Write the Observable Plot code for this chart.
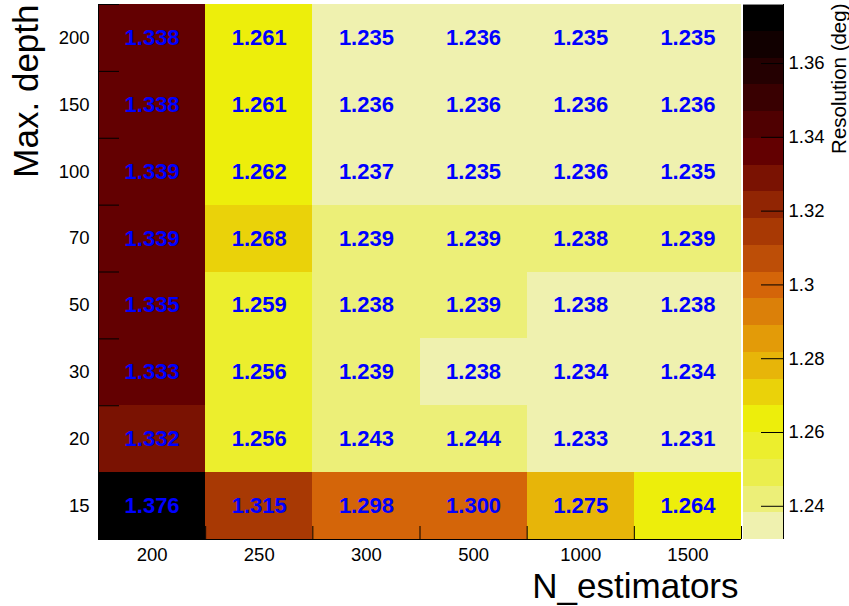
<!DOCTYPE html>
<html>
<head>
<meta charset="utf-8">
<script src="https://cdn.jsdelivr.net/npm/d3@7"></script>
<script src="https://cdn.jsdelivr.net/npm/@observablehq/plot@0.6"></script>
<style>
  body { margin: 0; background: white; }
  #wrap { position: relative; width: 849px; height: 606px; overflow: hidden; }
  #wrap svg { position: absolute; top: 0; }
</style>
</head>
<body>
<div id="wrap"></div>
<script>
// ---- data ----
const estimators = ["200", "250", "300", "500", "1000", "1500"];          // x categories
const depths = ["15", "20", "30", "50", "70", "100", "150", "200"];       // y categories, bottom to top
// resolution (deg), one row per depth (bottom to top), columns in estimators order
const res15  = [1.376, 1.315, 1.298, 1.300, 1.275, 1.264];
const res20  = [1.332, 1.256, 1.243, 1.244, 1.233, 1.231];
const res30  = [1.333, 1.256, 1.239, 1.238, 1.234, 1.234];
const res50  = [1.335, 1.259, 1.2383, 1.239, 1.238, 1.238];
const res70  = [1.339, 1.268, 1.239, 1.239, 1.2383, 1.239];
const res100 = [1.339, 1.262, 1.237, 1.235, 1.236, 1.235];
const res150 = [1.338, 1.261, 1.236, 1.236, 1.236, 1.236];
const res200 = [1.338, 1.261, 1.235, 1.236, 1.235, 1.235];
const resolution = [res15, res20, res30, res50, res70, res100, res150, res200];
const colorbarTicks = [1.24, 1.26, 1.28, 1.30, 1.32, 1.34, 1.36];

// ---- palette (inverted dark body radiator, 20 contour bands) ----
const palStops = [0, 0.125, 0.25, 0.375, 0.5, 0.625, 0.75, 0.875, 1];
const palR = [0, 45, 99, 156, 212, 230, 237, 234, 242];
const palG = [0, 0, 0, 45, 101, 168, 238, 238, 243];
const palB = [0, 1, 1, 3, 9, 8, 11, 95, 230];
function paletteColor(p) {
  for (let g = 1; g < palStops.length; g++) {
    const s = Math.floor(255 * palStops[g - 1]), e = Math.floor(255 * palStops[g]);
    if (p < e || g === palStops.length - 1) {
      const t = (p - s) / (e - s);
      return d3.rgb(
        Math.round(palR[g - 1] + t * (palR[g] - palR[g - 1])),
        Math.round(palG[g - 1] + t * (palG[g] - palG[g - 1])),
        Math.round(palB[g - 1] + t * (palB[g] - palB[g - 1]))
      ).formatHex();
    }
  }
}
const nBands = 20;
const [zmin, zmax] = d3.extent(resolution.flat());
const step = (zmax - zmin) / nBands;
const thresholds = d3.range(1, nBands).map(k => zmin + k * step);
const bandColors = d3.range(nBands).map(c => paletteColor(254 - Math.floor((c + 0.99) * 255 / nBands)));
const bands = d3.range(nBands).map(k => ({lo: zmin + k * step, hi: zmin + (k + 1) * step, color: bandColors[k]}));

const cells = depths.flatMap((d, ri) => estimators.map((e, ci) => ({ri, ci, v: resolution[ri][ci]})));

const font = "'Liberation Sans', Arial, Helvetica, sans-serif";
const fmt3 = d3.format(".3f");

const main = Plot.plot({
  width: 849, height: 606,
  marginLeft: 98, marginRight: 108, marginTop: 4, marginBottom: 67,
  x: {domain: [0, estimators.length]},
  y: {domain: [0, depths.length]},
  color: {type: "threshold", domain: thresholds, range: bandColors},
  style: {fontFamily: font, fontSize: "18.5px", background: "white", color: "black", overflow: "visible"},
  marks: [
    Plot.rect(cells, {x1: "ci", x2: d => d.ci + 1, y1: "ri", y2: d => d.ri + 1, fill: "v", shapeRendering: "crispEdges"}),
    Plot.text(cells, {x: d => d.ci + 0.5, y: d => d.ri + 0.5, text: d => fmt3(d.v), fill: "#0000ff", fontWeight: "bold", fontSize: 22}),
    Plot.ruleY(d3.range(0, depths.length + 1), {x1: 0, x2: 0, insetRight: -21, stroke: "black"}),
    Plot.ruleX(d3.range(0, estimators.length + 1), {y1: 0, y2: 0, insetBottom: 13, stroke: "black"}),
    Plot.ruleX([0], {stroke: "black"}),
    Plot.ruleY([0], {stroke: "black"}),
    Plot.axisX({ticks: estimators.map((e, i) => i + 0.5), tickFormat: d => estimators[Math.floor(d)], tickSize: 0, tickPadding: 8, label: null, fontSize: 18.5}),
    Plot.axisY({ticks: depths.map((e, i) => i + 0.5), tickFormat: d => depths[Math.floor(d)], tickSize: 0, tickPadding: 9, label: null, fontSize: 18.5}),
    Plot.text(["Max. depth"], {frameAnchor: "top-left", rotate: -90, textAnchor: "end", lineAnchor: "bottom", dx: -61, dy: 0, fontSize: 35, fill: "black"}),
    Plot.text(["N_estimators"], {frameAnchor: "bottom-right", textAnchor: "end", lineAnchor: "bottom", dx: -3, dy: 58, fontSize: 35, fill: "black"})
  ]
});
main.style.left = "0px";

const bar = Plot.plot({
  width: 106, height: 606,
  marginLeft: 0, marginRight: 66, marginTop: 4, marginBottom: 67,
  x: {domain: [0, 1], axis: null},
  y: {domain: [zmin, zmax]},
  style: {fontFamily: font, fontSize: "18.5px", background: "transparent", color: "black", overflow: "visible"},
  marks: [
    Plot.rect(bands, {x1: 0, x2: 1, y1: "lo", y2: "hi", fill: "color", shapeRendering: "crispEdges"}),
    Plot.ruleY(colorbarTicks, {insetLeft: 18, stroke: "black"}),
    Plot.ruleX([1], {stroke: "black"}),
    Plot.ruleY([zmax], {stroke: "#888"}),
    Plot.axisY({anchor: "right", ticks: colorbarTicks, tickFormat: d3.format("~g"), tickSize: 0, tickPadding: 5, label: null, fontSize: 18.5}),
    Plot.text(["Resolution (deg)"], {frameAnchor: "top-right", rotate: -90, textAnchor: "end", lineAnchor: "bottom", dx: 62, dy: -1, fontSize: 20.5, fill: "black"})
  ]
});
bar.style.left = "743px";

document.getElementById("wrap").append(main, bar);
</script>
</body>
</html>
